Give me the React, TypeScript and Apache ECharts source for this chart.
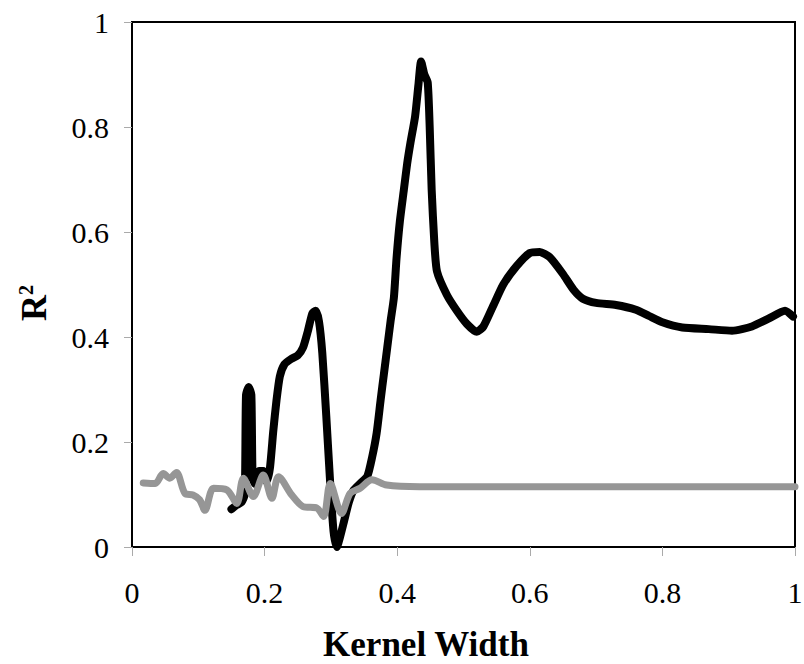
import React, { useEffect, useRef } from "react";
import * as echarts from "echarts";

const xTicks = [0, 0.2, 0.4, 0.6, 0.8, 1];
const yTicks = [0, 0.2, 0.4, 0.6, 0.8, 1];

const blackX = [0.150,0.158,0.165,0.170,0.172,0.176,0.180,0.182,0.186,0.192,0.198,0.203,0.208,0.213,0.218,0.223,0.230,0.240,0.250,0.258,0.265,0.272,0.277,0.282,0.287,0.293,0.299,0.304,0.309,0.314,0.320,0.327,0.334,0.345,0.355,0.362,0.369,0.375,0.380,0.385,0.390,0.395,0.399,0.404,0.410,0.415,0.420,0.427,0.432,0.436,0.441,0.446,0.449,0.452,0.456,0.460,0.475,0.490,0.505,0.520,0.530,0.545,0.560,0.580,0.600,0.615,0.630,0.650,0.666,0.680,0.700,0.730,0.760,0.780,0.800,0.830,0.870,0.905,0.935,0.960,0.985,0.997];
const blackY = [0.072,0.080,0.085,0.100,0.290,0.305,0.290,0.130,0.120,0.145,0.145,0.125,0.150,0.220,0.280,0.325,0.348,0.358,0.365,0.380,0.410,0.445,0.450,0.430,0.370,0.250,0.120,0.030,0.000,0.020,0.050,0.085,0.108,0.122,0.135,0.170,0.217,0.280,0.330,0.380,0.430,0.475,0.550,0.620,0.680,0.730,0.770,0.820,0.880,0.925,0.900,0.885,0.800,0.680,0.580,0.525,0.480,0.450,0.425,0.410,0.420,0.460,0.500,0.535,0.560,0.562,0.552,0.520,0.490,0.473,0.465,0.461,0.452,0.440,0.428,0.418,0.415,0.412,0.420,0.435,0.450,0.439];

const greyX = [0.017,0.035,0.047,0.057,0.067,0.080,0.092,0.102,0.110,0.123,0.143,0.158,0.168,0.183,0.198,0.211,0.221,0.241,0.258,0.279,0.289,0.299,0.316,0.329,0.344,0.362,0.384,0.434,0.600,0.800,1.000];
const greyY = [0.122,0.121,0.140,0.131,0.142,0.102,0.099,0.090,0.070,0.112,0.109,0.083,0.131,0.096,0.137,0.093,0.134,0.099,0.077,0.074,0.058,0.121,0.064,0.102,0.112,0.128,0.118,0.115,0.115,0.115,0.115];

const zip = (xs: number[], ys: number[]) => xs.map((x, i) => [x, ys[i]]);

export default function App() {
  const ref = useRef<HTMLDivElement>(null);
  useEffect(() => {
    if (!ref.current) return;
    const chart = echarts.init(ref.current, null, { renderer: "svg" });
    const font = "'Liberation Serif', 'Times New Roman', serif";
    chart.setOption({
      animation: false,
      backgroundColor: "#ffffff",
      grid: {
        left: 132,
        right: 9,
        top: 22,
        bottom: 117,
        outerBoundsMode: "none",
        containLabel: false,
        show: true,
        borderColor: "#000",
        borderWidth: 2,
      },
      xAxis: {
        type: "value",
        min: xTicks[0],
        max: xTicks[xTicks.length - 1],
        interval: 0.2,
        name: "Kernel Width",
        nameLocation: "middle",
        nameGap: 82,
        nameTextStyle: {
          fontFamily: font,
          fontSize: 35,
          lineHeight: 30,
          fontWeight: "bold",
          color: "#000",
          padding: [0, 75, 0, 0],
        },
        axisLine: { show: true, lineStyle: { color: "#000", width: 2 } },
        axisTick: { show: true, length: 9, lineStyle: { color: "#aaa" } },
        axisLabel: { fontFamily: font, fontSize: 30, lineHeight: 30, color: "#000", margin: 30 },
        splitLine: { show: false },
      },
      yAxis: {
        type: "value",
        min: yTicks[0],
        max: yTicks[yTicks.length - 1],
        interval: 0.2,
        name: "{r|R}{s|2}",
        nameLocation: "middle",
        nameRotate: 90,
        nameGap: 80,
        nameTextStyle: {
          fontFamily: font,
          fontWeight: "bold",
          color: "#000",
          padding: [0, 37, 0, 0],
          rich: {
            r: { fontFamily: font, fontSize: 36, fontWeight: "bold", lineHeight: 36, verticalAlign: "bottom", padding: [10, 0, 0, 0], color: "#000" },
            s: { fontFamily: font, fontSize: 20, fontWeight: "bold", lineHeight: 20, verticalAlign: "top", color: "#000" },
          },
        },
        axisLine: { show: true, lineStyle: { color: "#000", width: 2 } },
        axisTick: { show: true, length: 8, lineStyle: { color: "#aaa" } },
        axisLabel: { fontFamily: font, fontSize: 30, color: "#000", margin: 23 },
        splitLine: { show: false },
      },
      series: [
        {
          type: "line",
          data: zip(blackX, blackY),
          showSymbol: false,
          smooth: 0.2,
          lineStyle: { color: "#000", width: 8, cap: "round", join: "round" },
        },
        {
          type: "line",
          data: zip(greyX, greyY),
          showSymbol: false,
          smooth: 0.3,
          lineStyle: { color: "#969696", width: 7, cap: "round", join: "round" },
        },
      ],
    });
    return () => chart.dispose();
  }, []);
  return (
    <div
      ref={ref}
      style={{ position: "absolute", left: 0, top: 0, width: 804, height: 664, background: "#fff" }}
    />
  );
}
